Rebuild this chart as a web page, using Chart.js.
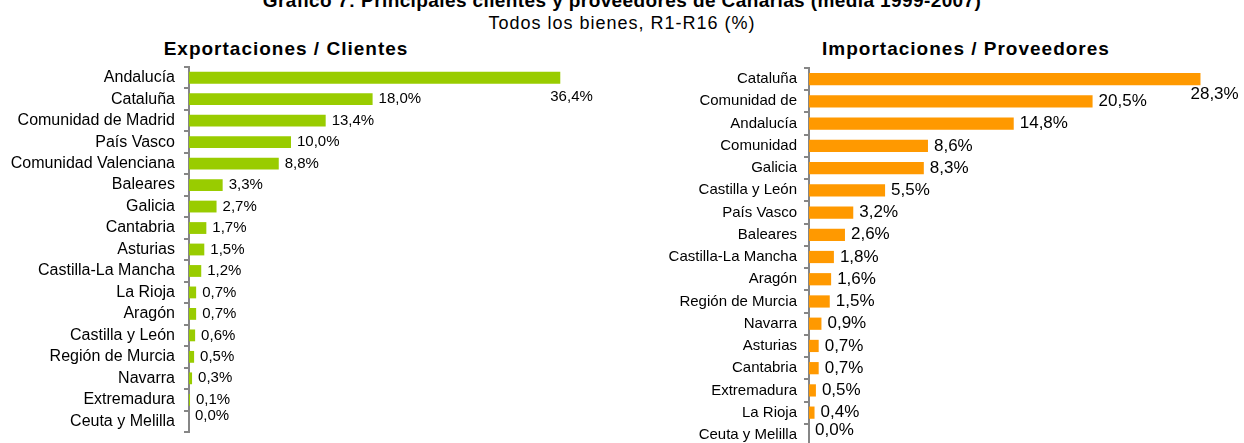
<!DOCTYPE html>
<html lang="es">
<head>
<meta charset="utf-8">
<title>Principales clientes y proveedores de Canarias</title>
<script src="https://cdn.jsdelivr.net/npm/chart.js@4.4.1/dist/chart.umd.min.js"></script>
<style>
  html, body {
    margin: 0;
    padding: 0;
    width: 1244px;
    height: 443px;
    overflow: hidden;
    background: #fff;
    font-family: "Liberation Sans", Arial, sans-serif;
    color: #000;
  }
  .txt {
    position: absolute;
    white-space: nowrap;
    line-height: 1;
    text-align: center;
  }
  .main-title { top: -9px; left: 0; width: 1244px; font-size: 19px; font-weight: bold; letter-spacing: 0.4px; }
  .sub-title { top: 14px; left: 0; width: 1244px; font-size: 18px; letter-spacing: 1px; }
  .panel-title { top: 39px; font-size: 19px; font-weight: bold; letter-spacing: 1px; }
  #exp-title { left: 86px; width: 400px; }
  #imp-title { left: 766px; width: 400px; }
  canvas { position: absolute; }
  #exp-chart { left: 0; top: 60px; }
  #imp-chart { left: 640px; top: 60px; }
</style>
</head>
<body>
  <div class="txt main-title">Gráfico 7: Principales clientes y proveedores de Canarias (media 1999-2007)</div>
  <div class="txt sub-title">Todos los bienes, R1-R16 (%)</div>
  <div class="txt panel-title" id="exp-title">Exportaciones / Clientes</div>
  <div class="txt panel-title" id="imp-title">Importaciones / Proveedores</div>

  <canvas id="exp-chart" width="620" height="383"></canvas>
  <canvas id="imp-chart" width="604" height="390"></canvas>

<script>
// Exportaciones: destino de las ventas canarias (% del total)
const exportRegions = [
  'Andalucía', 'Cataluña', 'Comunidad de Madrid', 'País Vasco', 'Comunidad Valenciana',
  'Baleares', 'Galicia', 'Cantabria', 'Asturias', 'Castilla-La Mancha', 'La Rioja',
  'Aragón', 'Castilla y León', 'Región de Murcia', 'Navarra', 'Extremadura', 'Ceuta y Melilla'
];
const exportShares = [36.4, 18.0, 13.4, 10.0, 8.8, 3.3, 2.7, 1.7, 1.5, 1.2, 0.7, 0.7, 0.6, 0.5, 0.3, 0.1, 0.0];

// Importaciones: origen de las compras canarias (% del total)
const importRegions = [
  'Cataluña', 'Comunidad de', 'Andalucía', 'Comunidad', 'Galicia', 'Castilla y León',
  'País Vasco', 'Baleares', 'Castilla-La Mancha', 'Aragón', 'Región de Murcia', 'Navarra',
  'Asturias', 'Cantabria', 'Extremadura', 'La Rioja', 'Ceuta y Melilla'
];
const importShares = [28.3, 20.5, 14.8, 8.6, 8.3, 5.5, 3.2, 2.6, 1.8, 1.6, 1.5, 0.9, 0.7, 0.7, 0.5, 0.4, 0.0];

const FONT = '"Liberation Sans", Arial, sans-serif';
const AXIS_GREY = '#868686';

// value labels "12,3%" at the end of each bar; if it doesn't fit, drop it under the bar end
const valueLabels = {
  id: 'valueLabels',
  afterDatasetsDraw(chart, args, opts) {
    const ctx = chart.ctx;
    const area = chart.chartArea;
    const meta = chart.getDatasetMeta(0);
    const values = chart.data.datasets[0].data;
    ctx.save();
    ctx.font = opts.size + 'px ' + FONT;
    ctx.fillStyle = '#000';
    ctx.textAlign = 'left';
    meta.data.forEach((bar, i) => {
      const v = values[i];
      const text = v.toFixed(1).replace('.', ',') + '%';
      const w = ctx.measureText(text).width;
      let x = bar.x + opts.gap;
      if (x + w > area.right) {
        ctx.textBaseline = 'top';
        ctx.fillText(text, bar.x - 10, bar.y + bar.height / 2 + opts.dropBelow);
      } else {
        ctx.textBaseline = 'middle';
        ctx.fillText(text, x, v === 0 ? bar.y - 5 : bar.y);
      }
    });
    ctx.restore();
  }
};

function makeChart(canvasId, labels, values, color, opt) {
  return new Chart(document.getElementById(canvasId), {
    type: 'bar',
    data: {
      labels: labels,
      datasets: [{
        data: values,
        backgroundColor: color,
        borderWidth: 0,
        barPercentage: 0.55,
        categoryPercentage: 1
      }]
    },
    plugins: [valueLabels],
    options: {
      indexAxis: 'y',
      responsive: false,
      animation: false,
      devicePixelRatio: 1,
      layout: { padding: opt.padding },
      plugins: {
        legend: { display: false },
        tooltip: { enabled: false },
        valueLabels: { size: opt.valueSize, gap: 6, dropBelow: opt.dropBelow }
      },
      scales: {
        x: { type: 'linear', min: 0, max: opt.max, display: false },
        y: {
          afterFit: (scale) => {
            // fixed axis width, and no extra room for the first/last label
            scale.width = opt.axisWidth;
            scale.paddingTop = 0;
            scale.paddingBottom = 0;
          },
          grid: {
            drawOnChartArea: false,
            drawTicks: true,
            tickLength: 5,
            color: AXIS_GREY,
            lineWidth: 2,
            offset: true
          },
          border: { display: true, color: AXIS_GREY, width: 2 },
          ticks: {
            autoSkip: false,
            padding: opt.tickPad,
            color: '#000',
            font: { family: FONT, size: opt.labelSize }
          }
        }
      }
    }
  });
}

makeChart('exp-chart', exportRegions, exportShares, '#99CC00', {
  max: 40, axisWidth: 189, tickPad: 9, labelSize: 16, valueSize: 15, dropBelow: 6,
  padding: { top: 7, bottom: 11, left: 0, right: 23 }
});

makeChart('imp-chart', importRegions, importShares, '#FF9900', {
  max: 30, axisWidth: 169, tickPad: 7, labelSize: 15, valueSize: 17, dropBelow: 1,
  padding: { top: 8, bottom: 4, left: 0, right: 20 }
});
</script>
</body>
</html>
